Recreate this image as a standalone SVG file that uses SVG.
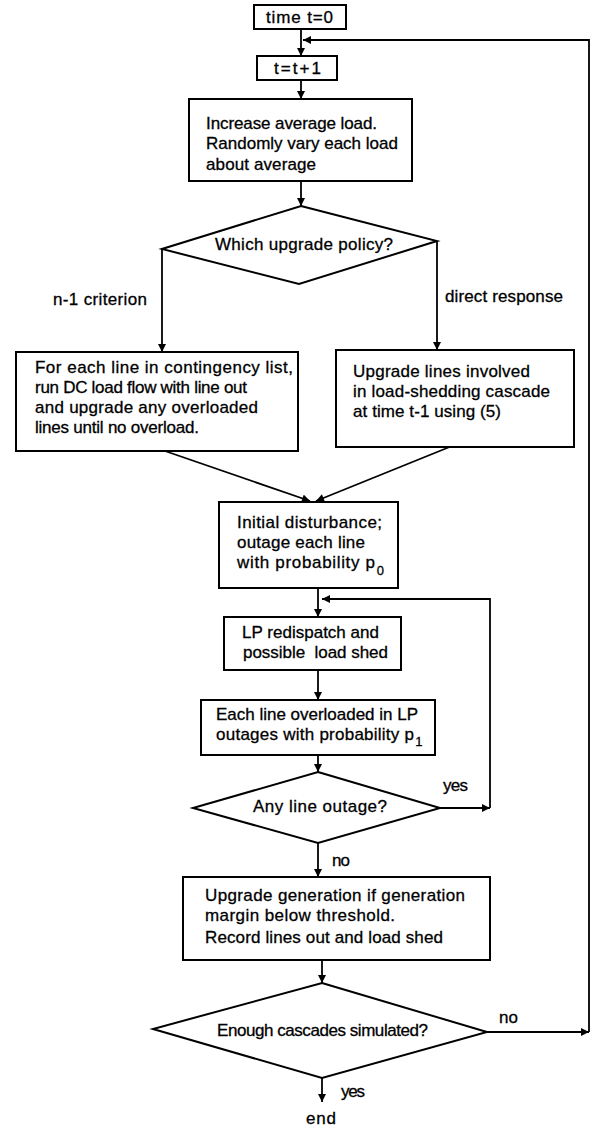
<svg xmlns="http://www.w3.org/2000/svg" width="592" height="1128" viewBox="0 0 592 1128">
<style>
.box{fill:#fff;stroke:#000;stroke-width:2}
.c{fill:none;stroke:#000;stroke-width:1.8}
text{font-family:"Liberation Sans",Arial,sans-serif;font-size:17px;fill:#000;stroke:#000;stroke-width:0.3}
.sub{font-size:13px}
</style>
<defs>
<marker id="ah" viewBox="0 0 10 10" refX="10" refY="5" markerWidth="10" markerHeight="8" markerUnits="userSpaceOnUse" orient="auto">
<path d="M0,0 L10,5 L0,10 z" fill="#000"/>
</marker>
</defs>
<rect width="592" height="1128" fill="#fff"/>
<g id="connectors">
<path class="c" d="M301 29 V56" marker-end="url(#ah)"/>
<path class="c" d="M301 80 V99" marker-end="url(#ah)"/>
<path class="c" d="M301 181 V206" marker-end="url(#ah)"/>
<path class="c" d="M162 249 V352" marker-end="url(#ah)"/>
<path class="c" d="M437 241 V350" marker-end="url(#ah)"/>
<path class="c" d="M165 451 L310 501" marker-end="url(#ah)"/>
<path class="c" d="M452 446 L316 501" marker-end="url(#ah)"/>
<path class="c" d="M318 588 V617" marker-end="url(#ah)"/>
<path class="c" d="M490 808 V599 H322" marker-end="url(#ah)"/>
<path class="c" d="M318 670 V700" marker-end="url(#ah)"/>
<path class="c" d="M318 755 V772" marker-end="url(#ah)"/>
<path class="c" d="M440 808 H490" marker-end="url(#ah)"/>
<path class="c" d="M318 843 V877" marker-end="url(#ah)"/>
<path class="c" d="M322 960 V983" marker-end="url(#ah)"/>
<path class="c" d="M487 1032 H589" marker-end="url(#ah)"/>
<path class="c" d="M589 1032 V40 H303" marker-end="url(#ah)"/>
<path class="c" d="M322 1078 V1102" marker-end="url(#ah)"/>
<text x="53" y="305" textLength="94">n-1 criterion</text>
<text x="445" y="302" textLength="118">direct response</text>
<text x="443" y="791" textLength="25">yes</text>
<text x="332" y="866" textLength="18">no</text>
<text x="499" y="1023" textLength="19">no</text>
<text x="341" y="1097" textLength="24">yes</text>
</g>
<g id="start">
<rect class="box" x="254" y="5" width="92" height="24"/>
<text x="266" y="23" textLength="67">time t=0</text>
</g>
<g id="increment">
<rect class="box" x="257" y="56" width="80" height="24"/>
<text x="274" y="74" textLength="47">t=t+1</text>
</g>
<g id="increase">
<rect class="box" x="189" y="99" width="223" height="82"/>
<text x="206" y="128.5" textLength="171">Increase average load.</text>
<text x="206" y="149" textLength="192">Randomly vary each load</text>
<text x="206" y="170" textLength="110">about average</text>
</g>
<g id="policy">
<path class="box" d="M301 206 L437 241 L299 284 L162 249 Z"/>
<text x="215" y="250" textLength="178">Which upgrade policy?</text>
</g>
<g id="n1">
<rect class="box" x="16" y="352" width="282" height="99"/>
<text x="35" y="373" textLength="258">For each line in contingency list,</text>
<text x="35" y="393" textLength="212">run DC load flow with line out</text>
<text x="35" y="413" textLength="223">and upgrade any overloaded</text>
<text x="35" y="433" textLength="164">lines until no overload.</text>
</g>
<g id="direct">
<rect class="box" x="336" y="350" width="238" height="97"/>
<text x="353" y="377" textLength="177">Upgrade lines involved</text>
<text x="353" y="397" textLength="197">in load-shedding cascade</text>
<text x="353" y="417" textLength="148">at time t-1 using (5)</text>
</g>
<g id="initial">
<rect class="box" x="219" y="502" width="179" height="86"/>
<text x="237" y="528" textLength="145">Initial disturbance;</text>
<text x="237" y="548" textLength="128">outage each line</text>
<text x="237" y="568"><tspan textLength="138">with probability p</tspan><tspan class="sub" dx="1" dy="7">0</tspan></text>
</g>
<g id="lp">
<rect class="box" x="224" y="617" width="177" height="53"/>
<text x="242" y="638" textLength="137">LP redispatch and</text>
<text x="243" y="658" textLength="145" xml:space="preserve">possible  load shed</text>
</g>
<g id="overload">
<rect class="box" x="201" y="700" width="234" height="55"/>
<text x="216" y="720" textLength="202">Each line overloaded in LP</text>
<text x="216" y="740"><tspan textLength="198">outages with probability p</tspan><tspan class="sub" dx="1" dy="6">1</tspan></text>
</g>
<g id="outage">
<path class="box" d="M318 772 L440 808 L318 843 L193 808 Z"/>
<text x="253" y="812" textLength="134">Any line outage?</text>
</g>
<g id="upgen">
<rect class="box" x="183" y="877" width="307" height="83"/>
<text x="205" y="901" textLength="260">Upgrade generation if generation</text>
<text x="205" y="921" textLength="190">margin below threshold.</text>
<text x="205" y="943" textLength="238">Record lines out and load shed</text>
</g>
<g id="enough">
<path class="box" d="M322 983 L487 1032 L322 1078 L153 1029 Z"/>
<text x="217" y="1036" textLength="211">Enough cascades simulated?</text>
</g>
<g id="end">
<text x="306" y="1124" textLength="30">end</text>
</g>
</svg>
